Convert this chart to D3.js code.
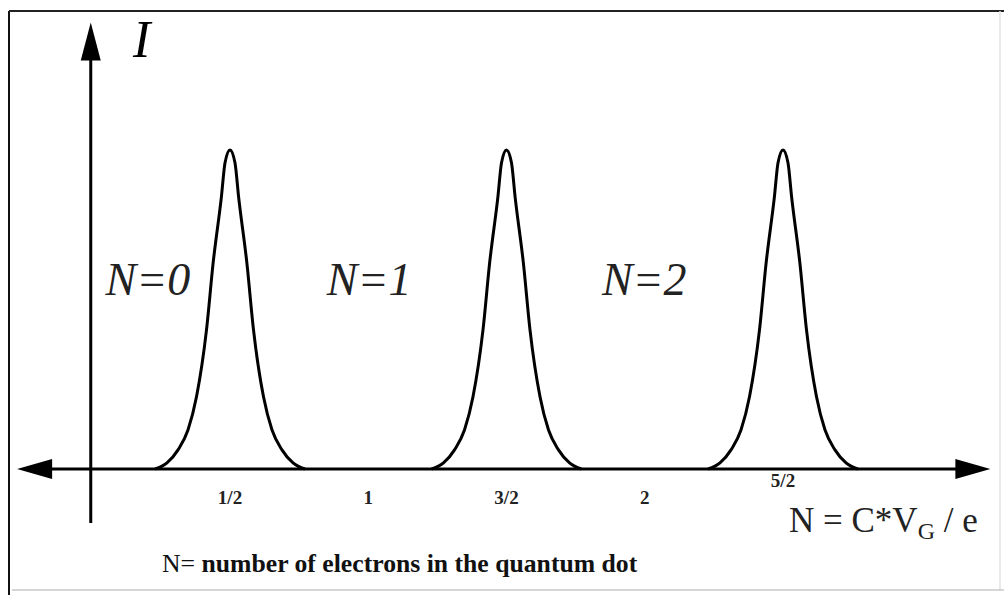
<!DOCTYPE html>
<html>
<head>
<meta charset="utf-8">
<script src="https://cdn.jsdelivr.net/npm/d3@7"></script>
<style>
  html, body { margin: 0; padding: 0; background: #fff; }
  svg { display: block; }
</style>
</head>
<body>
<svg id="chart" width="1004" height="595"></svg>
<script>
// Coulomb blockade: conductance peaks between charge states of a quantum dot
const peakCenters = [0.5, 1.5, 2.5];          // N = C*VG/e at each peak
// Shape of one conductance peak: [offset in N, relative current I]
const peakProfile = [
  [-0.271, 0], [-0.228, 0.019], [-0.188, 0.06], [-0.152, 0.122], [-0.121, 0.227],
  [-0.085, 0.436], [-0.061, 0.646], [-0.031, 0.854], [-0.018, 0.96], [0, 1],
  [0.018, 0.96], [0.031, 0.854], [0.061, 0.646], [0.085, 0.436], [0.121, 0.227],
  [0.152, 0.122], [0.188, 0.06], [0.228, 0.019], [0.271, 0]
];
const tickValues = [0.5, 1, 1.5, 2, 2.5];
const tickLabels = ["1/2", "1", "3/2", "2", "5/2"];
const stateLabels = ["N=0", "N=1", "N=2"];
const stateValues = [0.05, 0.85, 1.845];        // where each charge-state label starts

const SERIF = "'Liberation Serif', 'Times New Roman', Times, serif";

const svg = d3.select("#chart");

const x = d3.scaleLinear().domain([0.5, 2.5]).range([230, 783]);
const y = d3.scaleLinear().domain([0, 1]).range([469, 150]);

// frame
svg.append("line").attr("x1", 9).attr("y1", 11).attr("x2", 9).attr("y2", 595)
  .attr("stroke", "#111").attr("stroke-width", 2);
svg.append("line").attr("x1", 9).attr("y1", 11).attr("x2", 1004).attr("y2", 11)
  .attr("stroke", "#222").attr("stroke-width", 2);
svg.append("line").attr("x1", 1000).attr("y1", 11).attr("x2", 1000).attr("y2", 590)
  .attr("stroke", "#e2e2e2").attr("stroke-width", 1.5);
svg.append("line").attr("x1", 12).attr("y1", 590).attr("x2", 1004).attr("y2", 590)
  .attr("stroke", "#c8c8c8").attr("stroke-width", 1.5);

// horizontal axis with arrowheads at both ends
const axisY = y(0);
const xAxisLeft = x(-0.27), xAxisRight = x(3.25);
svg.append("line").attr("x1", xAxisLeft + 30).attr("y1", axisY)
  .attr("x2", xAxisRight - 30).attr("y2", axisY)
  .attr("stroke", "#000").attr("stroke-width", 3);
svg.append("path")
  .attr("d", `M${xAxisLeft},${axisY} L${xAxisLeft + 35},${axisY - 10} L${xAxisLeft + 35},${axisY + 10} Z`)
  .attr("fill", "#000");
svg.append("path")
  .attr("d", `M${xAxisRight},${axisY} L${xAxisRight - 35},${axisY - 10} L${xAxisRight - 35},${axisY + 10} Z`)
  .attr("fill", "#000");

// vertical (current) axis
const yAxisX = x(0) - 1;
const yTop = y(1.4);
svg.append("line").attr("x1", yAxisX).attr("y1", 523).attr("x2", yAxisX).attr("y2", yTop + 30)
  .attr("stroke", "#000").attr("stroke-width", 3);
svg.append("path")
  .attr("d", `M${yAxisX},${yTop} L${yAxisX - 10},${yTop + 38} L${yAxisX + 10},${yTop + 38} Z`)
  .attr("fill", "#000");

svg.append("text")
  .attr("font-family", SERIF)
  .attr("x", 133).attr("y", 57)
  .attr("font-size", 52).attr("font-style", "italic")
  .text("I");

// peaks
const line = d3.line()
  .x(d => x(d[0]))
  .y(d => y(d[1]))
  .curve(d3.curveMonotoneX);

svg.selectAll("path.peak")
  .data(peakCenters)
  .join("path")
  .attr("class", "peak")
  .attr("d", c => line(peakProfile.map(p => [c + p[0], p[1]])))
  .attr("fill", "none")
  .attr("stroke", "#000")
  .attr("stroke-width", 3)
  .attr("stroke-linejoin", "round");

// charge-state labels
svg.selectAll("text.state")
  .data(stateLabels)
  .join("text")
  .attr("class", "state")
  .attr("font-family", SERIF)
  .attr("x", (d, i) => x(stateValues[i]))
  .attr("y", 295)
  .attr("font-size", 46)
  .attr("font-style", "italic")
  .attr("fill", "#222")
  .text(d => d);

// tick labels (the last one sits just under the axis)
svg.selectAll("text.tick")
  .data(tickValues)
  .join("text")
  .attr("class", "tick")
  .attr("font-family", SERIF)
  .attr("x", d => x(d))
  .attr("y", (d, i) => i === tickValues.length - 1 ? 487 : 504)
  .attr("text-anchor", "middle")
  .attr("font-size", 19)
  .attr("font-weight", "bold")
  .attr("fill", "#222")
  .text((d, i) => tickLabels[i]);

// axis title
const title = svg.append("text")
  .attr("font-family", SERIF)
  .attr("x", 789).attr("y", 532)
  .attr("font-size", 35)
  .attr("fill", "#222");
title.append("tspan").text("N = C*V");
title.append("tspan").attr("font-size", 24).attr("dy", 7).text("G");
title.append("tspan").attr("dy", -7).text(" / e");

// caption
const caption = svg.append("text")
  .attr("font-family", SERIF)
  .attr("x", 162).attr("y", 572)
  .attr("font-size", 25.7)
  .attr("fill", "#111");
caption.append("tspan").text("N= ");
caption.append("tspan").attr("font-weight", "bold").text("number of electrons in the quantum dot");
</script>
</body>
</html>
